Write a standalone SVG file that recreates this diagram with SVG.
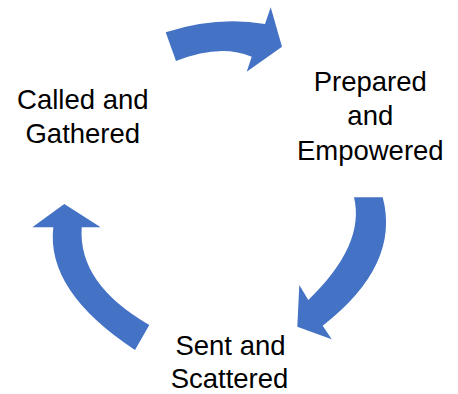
<svg xmlns="http://www.w3.org/2000/svg" width="458" height="394" viewBox="0 0 458 394">
<style>
.arrow{fill:#4472C4}
.lbl{font-family:"Liberation Sans",Arial,sans-serif;font-size:27.5px;fill:#000;text-anchor:middle}
</style>
<rect width="458" height="394" fill="#fff"/>
<g id="connectors">
<path class="arrow" d="M165.7,32.3 Q216.6,15.9 265,24 L270.7,7.3 L282,46.7 L246.7,71.7 L251.7,56.7 Q220.2,43.2 176,61 Z"/>
<path class="arrow" d="M354,197.3 L382.7,197.3 Q400.7,265.1 322.7,325.7 L331.7,339.3 L297.3,326.7 L299.3,285 L308.3,300 Q365.5,244.8 354,197.3 Z"/>
<path class="arrow" d="M135,350 Q45.9,291.4 53.3,227.3 L32.3,227.3 L64.3,204 L100.7,227.3 L81.7,227.3 Q77.9,283.9 149.3,325 Z"/>
</g>
<g id="called">
<text class="lbl" x="82.8" y="109.3">Called and</text>
<text class="lbl" x="82.8" y="142.7">Gathered</text>
</g>
<g id="prepared">
<text class="lbl" x="370.3" y="90.5">Prepared</text>
<text class="lbl" x="370.3" y="125">and</text>
<text class="lbl" x="370.3" y="159.5">Empowered</text>
</g>
<g id="sent">
<text class="lbl" x="230.5" y="354.5">Sent and</text>
<text class="lbl" x="229.5" y="388">Scattered</text>
</g>
</svg>
